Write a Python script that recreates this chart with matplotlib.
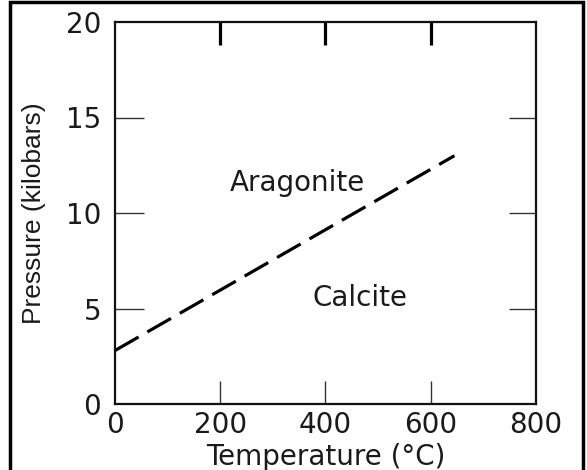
import matplotlib
matplotlib.use("Agg")
import matplotlib.pyplot as plt
from matplotlib.patches import Rectangle

# Data
boundary_T = [0, 645]          # Temperature (°C)
boundary_P = [2.8, 13.0]       # Pressure (kilobars)
x_ticks = [0, 200, 400, 600, 800]
y_ticks = [0, 5, 10, 15, 20]
region_labels = ["Aragonite", "Calcite"]
region_T = [346, 466]
region_P = [11.57, 5.55]

fig = plt.figure(figsize=(5.87, 4.70), dpi=100)
ax = fig.add_axes([0.1959, 0.1404, 0.7172, 0.8128])

ax.plot(boundary_T, boundary_P, color="black", lw=2.3, dashes=(8.5, 3.2),
        solid_capstyle="butt", dash_capstyle="butt")

for lab, t, p in zip(region_labels, region_T, region_P):
    ax.text(t, p, lab, ha="center", va="center", fontsize=20,
            family="DejaVu Sans", color="#1a1a1a")

ax.set_xlim(0, 800)
ax.set_ylim(0, 20)
ax.set_xticks(x_ticks)
ax.set_yticks(y_ticks)
ax.set_xticklabels([str(v) for v in x_ticks], fontsize=20, family="DejaVu Sans", color="#1a1a1a")
ax.set_yticklabels([str(v) for v in y_ticks], fontsize=20, family="DejaVu Sans", color="#1a1a1a")

for s in ax.spines.values():
    s.set_linewidth(1.6)
    s.set_color("#111111")

# bottom / left ticks
ax.tick_params(axis="x", which="both", direction="in", length=16.5, width=1.0,
               color="#333333", pad=5, top=False)
ax.tick_params(axis="y", which="both", direction="in", length=21, width=1.0,
               color="#333333", pad=10, right=False)
# no tick marks at the axis ends
for t in [ax.xaxis.get_major_ticks()[0], ax.xaxis.get_major_ticks()[-1],
          ax.yaxis.get_major_ticks()[0], ax.yaxis.get_major_ticks()[-1]]:
    t.tick1line.set_visible(False)
    t.tick2line.set_visible(False)

# top ticks (thick) on secondary axis
axt = ax.secondary_xaxis("top")
axt.set_xticks([200, 400, 600])
axt.tick_params(direction="in", length=16.5, width=2.3, color="black", labeltop=False)
axt.spines["top"].set_visible(False)

axr = ax.secondary_yaxis("right")
axr.set_yticks([5, 10, 15])
axr.tick_params(direction="in", length=19.5, width=1.0, color="#333333", labelright=False)
axr.spines["right"].set_visible(False)

ax.set_xlabel("Temperature (°C)", fontsize=20, family="DejaVu Sans", color="#1a1a1a", labelpad=3)
ax.set_ylabel("Pressure (kilobars)", fontsize=19, family="Liberation Sans", color="#1a1a1a", labelpad=14)

# image frame
fig.patches.append(Rectangle((10 / 587, -0.02), 573 / 587, 1.0 - 2 / 470 + 0.02,
                             transform=fig.transFigure, fill=False,
                             edgecolor="black", lw=2.5))

fig.savefig("out.png", dpi=100)
